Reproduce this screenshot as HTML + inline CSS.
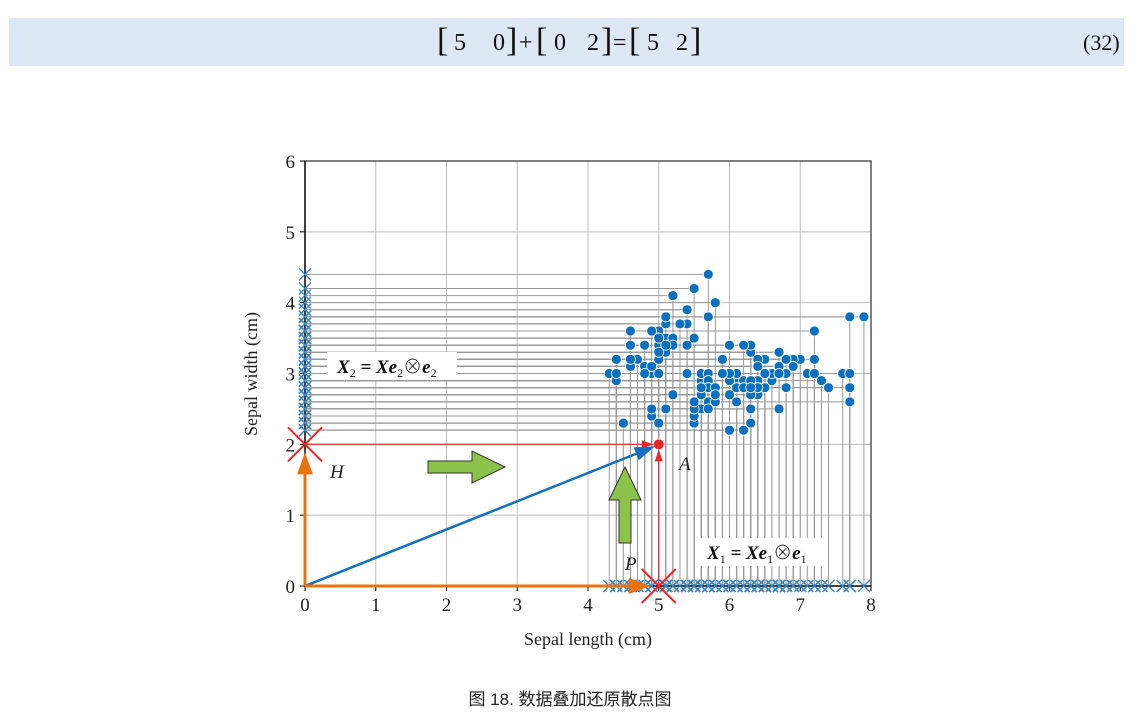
<!DOCTYPE html>
<html><head><meta charset="utf-8"><style>
body{margin:0;width:1140px;height:716px;background:#fff;overflow:hidden;font-family:"Liberation Serif","Noto Serif CJK SC",serif;}
#eq{position:absolute;left:9px;top:18px;width:1115px;height:48px;background:#dee8f4;}
#cap{position:absolute;left:0;width:1140px;top:685px;text-align:center;font-family:"Liberation Sans","Noto Sans CJK SC",sans-serif;font-size:17px;color:#222;}
</style></head><body>
<div id="eq">
<svg width="1115" height="48">
<g font-family="Liberation Serif" font-size="24" fill="#111">
<text x="428" y="33" font-size="34" font-weight="100">[</text><text x="445" y="32">5</text><text x="484" y="32">0</text><text x="497" y="33" font-size="34">]</text>
<text x="510" y="32">+</text>
<text x="527" y="33" font-size="34">[</text><text x="545" y="32">0</text><text x="578" y="32">2</text><text x="592" y="33" font-size="34">]</text>
<text x="604" y="32">=</text>
<text x="620" y="33" font-size="34">[</text><text x="638" y="32">5</text><text x="667" y="32">2</text><text x="681" y="33" font-size="34">]</text>
<text x="1074" y="32" font-size="22">(32)</text>
</g></svg></div>
<svg id="chart" width="1140" height="716" style="position:absolute;left:0;top:0">
<g id="grid"></g><g id="lines"></g><g id="marks"></g><g id="over"></g>
</svg>
<div id="cap">图 18. 数据叠加还原散点图</div>
<script>
const xs=[5.1,4.9,4.7,4.6,5.0,5.4,4.6,5.0,4.4,4.9,5.4,4.8,4.8,4.3,5.8,5.7,5.4,5.1,5.7,5.1,5.4,5.1,4.6,5.1,4.8,5.0,5.0,5.2,5.2,4.7,4.8,5.4,5.2,5.5,4.9,5.0,5.5,4.9,4.4,5.1,5.0,4.5,4.4,5.0,5.1,4.8,5.1,4.6,5.3,5.0,
7.0,6.4,6.9,5.5,6.5,5.7,6.3,4.9,6.6,5.2,5.0,5.9,6.0,6.1,5.6,6.7,5.6,5.8,6.2,5.6,5.9,6.1,6.3,6.1,6.4,6.6,6.8,6.7,6.0,5.7,5.5,5.5,5.8,6.0,5.4,6.0,6.7,6.3,5.6,5.5,5.5,6.1,5.8,5.0,5.6,5.7,5.7,6.2,5.1,5.7,
6.3,5.8,7.1,6.3,6.5,7.6,4.9,7.3,6.7,7.2,6.5,6.4,6.8,5.7,5.8,6.4,6.5,7.7,7.7,6.0,6.9,5.6,7.7,6.3,6.7,7.2,6.2,6.1,6.4,7.2,7.4,7.9,6.4,6.3,6.1,7.7,6.3,6.4,6.0,6.9,6.7,6.9,5.8,6.8,6.7,6.7,6.3,6.5,6.2,5.9];
const ys=[3.5,3.0,3.2,3.1,3.6,3.9,3.4,3.4,2.9,3.1,3.7,3.4,3.0,3.0,4.0,4.4,3.9,3.5,3.8,3.8,3.4,3.7,3.6,3.3,3.4,3.0,3.4,3.5,3.4,3.2,3.1,3.4,4.1,4.2,3.1,3.2,3.5,3.6,3.0,3.4,3.5,2.3,3.2,3.5,3.8,3.0,3.8,3.2,3.7,3.3,
3.2,3.2,3.1,2.3,2.8,2.8,3.3,2.4,2.9,2.7,2.0,3.0,2.2,2.9,2.9,3.1,3.0,2.7,2.2,2.5,3.2,2.8,2.5,2.8,2.9,3.0,2.8,3.0,2.9,2.6,2.4,2.4,2.7,2.7,3.0,3.4,3.1,2.3,3.0,2.5,2.6,3.0,2.6,2.3,2.7,3.0,2.9,2.9,2.5,2.8,
3.3,2.7,3.0,2.9,3.0,3.0,2.5,2.9,2.5,3.6,3.2,2.7,3.0,2.5,2.8,3.2,3.0,3.8,2.6,2.2,3.2,2.8,2.8,2.7,3.3,3.2,2.8,3.0,2.8,3.0,2.8,3.8,2.8,2.8,2.6,3.0,3.4,3.1,3.0,3.1,3.1,3.1,2.7,3.2,3.3,3.0,2.5,3.0,3.4,3.0];
const xTicks=[0,1,2,3,4,5,6,7,8];
const yTicks=[0,1,2,3,4,5,6];
const pointA=[5,2];
const X0=305,X1=871,Y0=586,Y1=161;
const sx=v=>X0+(X1-X0)*v/8, sy=v=>Y0-(Y0-Y1)*v/6;
const NS='http://www.w3.org/2000/svg';
function mk(p,t,a){const e=document.createElementNS(NS,t);for(const k in a)e.setAttribute(k,a[k]);p.appendChild(e);return e;}
const G=document.getElementById('grid'),L=document.getElementById('lines'),M=document.getElementById('marks'),O=document.getElementById('over');
xTicks.forEach(v=>{const l=mk(G,'line',{x1:sx(v),x2:sx(v),y1:Y1,y2:Y0,stroke:'#bdbdbd','stroke-width':1});

});
yTicks.forEach(v=>{const l=mk(G,'line',{x1:X0,x2:X1,y1:sy(v),y2:sy(v),stroke:'#bdbdbd','stroke-width':1});


mk(G,'line',{x1:X0-5,x2:X0,y1:sy(v),y2:sy(v),stroke:'#000'});});
xTicks.forEach(v=>mk(G,'line',{x1:sx(v),x2:sx(v),y1:Y0,y2:Y0+5,stroke:'#000'}));
const fr=mk(G,'rect',{x:X0,y:Y1,width:X1-X0,height:Y0-Y1,fill:'none',stroke:'#000'});


xTicks.forEach(v=>{const t=mk(G,'text',{x:sx(v),y:Y0+25,'text-anchor':'middle','font-size':19,fill:'#222'});t.textContent=v;

});
yTicks.forEach(v=>{const t=mk(G,'text',{x:X0-10,y:sy(v)+7,'text-anchor':'end','font-size':19,fill:'#222'});t.textContent=v;

});
let t=mk(G,'text',{x:588,y:645,'text-anchor':'middle','font-size':18,fill:'#222'});t.textContent='Sepal length (cm)';


t=mk(G,'text',{x:0,y:0,transform:'translate(257,374) rotate(-90)','text-anchor':'middle','font-size':18,fill:'#222'});t.textContent='Sepal width (cm)';


xs.forEach((x,i)=>{
const h=mk(L,'line',{x1:X0,x2:sx(x),y1:sy(ys[i]),y2:sy(ys[i]),stroke:'#999','stroke-width':1});


const v=mk(L,'line',{x1:sx(x),x2:sx(x),y1:sy(ys[i]),y2:Y0,stroke:'#999','stroke-width':1});

});
mk(L,'line',{x1:X0,x2:X1,y1:Y0,y2:Y0,stroke:'#000','stroke-width':1.5});
mk(L,'line',{x1:X0,x2:X0,y1:Y1,y2:Y0,stroke:'#000','stroke-width':1.5});
function cross(p,cx,cy,s,c,w){return mk(p,'path',{d:`M${cx-s},${cy-s}L${cx+s},${cy+s}M${cx-s},${cy+s}L${cx+s},${cy-s}`,stroke:c,'stroke-width':w,fill:'none'});}
xs.forEach((x,i)=>{
const a=cross(M,sx(x),Y0,6,'#3a86c8',1.3);


const b=cross(M,X0,sy(ys[i]),6,'#3a86c8',1.3);

});
xs.forEach((x,i)=>{const c=mk(M,'circle',{cx:sx(x),cy:sy(ys[i]),r:5,fill:'#0c70c0',stroke:'#fff','stroke-width':0.8});

});
const ax=sx(pointA[0]),ay=sy(pointA[1]);
function arrow(x1,y1,x2,y2,c,w,hl,hw,name){const g=mk(O,'g',{});


const dx=x2-x1,dy=y2-y1,len=Math.hypot(dx,dy),ux=dx/len,uy=dy/len;
const bx=x2-ux*hl,by=y2-uy*hl;
mk(g,'line',{x1,y1,x2:bx,y2:by,stroke:c,'stroke-width':w});
mk(g,'polygon',{points:`${x2},${y2} ${bx-uy*hw},${by+ux*hw} ${bx+uy*hw},${by-ux*hw}`,fill:c});}
arrow(X0,ay,ax-5,ay,'#e8262a',1.2,12,4,'h-red-arrow');
arrow(ax,Y0,ax,ay+5,'#e8262a',1.2,12,4,'v-red-arrow');
arrow(X0,Y0,ax-4,ay+2,'#1270c0',2.5,20,7,'vector-arrow');
arrow(X0,Y0,ax-8,Y0,'#e97312',3,22,8,'x-orange-arrow');
arrow(X0,Y0,X0,ay+8,'#e97312',3,22,8,'y-orange-arrow');
const r1=cross(O,X0,ay,17,'#e8262a',2);
const r2=cross(O,ax,Y0,17,'#e8262a',2);
const pa=mk(O,'circle',{cx:ax,cy:ay,r:5,fill:'#e8262a'});
let g1=mk(O,'polygon',{points:'428,461 472,461 472,451 505,467 472,483 472,473 428,473',fill:'#8bc34a',stroke:'#333','stroke-width':1});

let g2=mk(O,'polygon',{points:'619,543 619,500 609,500 625,467 641,500 631,500 631,543',fill:'#8bc34a',stroke:'#333','stroke-width':1});

function lbl(x,y,txt,name){const e=mk(O,'text',{x,y,'font-size':19,'font-style':'italic',fill:'#222'});e.textContent=txt;
}
lbl(330,478,'H','label-h');lbl(679,470,'A','label-a');lbl(625,570,'P','label-p');
function eqbox(x,y,w,sub,name){const g=mk(O,'g',{});
mk(g,'rect',{x,y,width:w,height:28,fill:'#fff'});
const e=mk(g,'text',{x:x+10,y:y+21,'font-size':19,'font-weight':'bold','font-style':'italic',fill:'#111'});
e.innerHTML=`X<tspan font-size="12" font-style="normal" font-weight="normal" dy="4">${sub}</tspan><tspan dy="-4"> = Xe</tspan><tspan font-size="12" font-style="normal" font-weight="normal" dy="4">${sub}</tspan><tspan dy="-4" font-style="normal" font-weight="normal">⊗</tspan><tspan>e</tspan><tspan font-size="12" font-style="normal" font-weight="normal" dy="4">${sub}</tspan>`;}
eqbox(327,352,130,'2','x2-equation-label');
eqbox(697,538,127,'1','x1-equation-label');
</script>
</body></html>
